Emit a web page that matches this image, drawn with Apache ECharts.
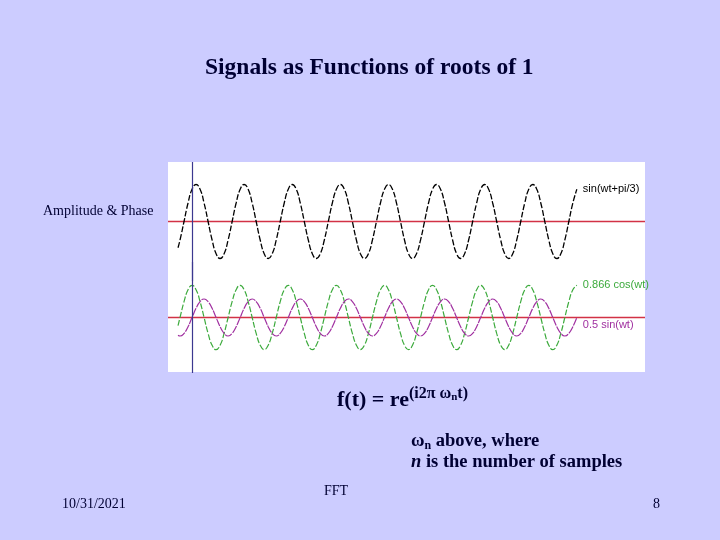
<!DOCTYPE html>
<html>
<head>
<meta charset="utf-8">
<script src="https://cdn.jsdelivr.net/npm/echarts@6/dist/echarts.min.js"></script>
<style>
html, body { margin: 0; padding: 0; background: #ccccff; }
#main { width: 720px; height: 540px; }
</style>
</head>
<body>
<div id="main"></div>
<script>
var phaseDeg = [-105, -90, -60, -30,
	0, 30, 60, 90, 120, 150, 180, 210, 240, 270, 300, 330,
	360, 390, 420, 450, 480, 510, 540, 570, 600, 630, 660, 690,
	720, 750, 780, 810, 840, 870, 900, 930, 960, 990, 1020, 1050,
	1080, 1110, 1140, 1170, 1200, 1230, 1260, 1290, 1320, 1350, 1380, 1410,
	1440, 1470, 1500, 1530, 1560, 1590, 1620, 1650, 1680, 1710, 1740, 1770,
	1800, 1830, 1860, 1890, 1920, 1950, 1980, 2010, 2040, 2070, 2100, 2130,
	2160, 2190, 2220, 2250, 2280, 2310, 2340, 2370, 2400, 2430, 2460, 2490,
	2520, 2550, 2580, 2610, 2640, 2670, 2700, 2730, 2760, 2790, 2820, 2850,
	2880];

// sin(wt+pi/3)
var sinShifted = [-0.71, -0.5, 0, 0.5,
	0.87, 1, 0.87, 0.5, 0, -0.5, -0.87, -1, -0.87, -0.5, 0, 0.5,
	0.87, 1, 0.87, 0.5, 0, -0.5, -0.87, -1, -0.87, -0.5, 0, 0.5,
	0.87, 1, 0.87, 0.5, 0, -0.5, -0.87, -1, -0.87, -0.5, 0, 0.5,
	0.87, 1, 0.87, 0.5, 0, -0.5, -0.87, -1, -0.87, -0.5, 0, 0.5,
	0.87, 1, 0.87, 0.5, 0, -0.5, -0.87, -1, -0.87, -0.5, 0, 0.5,
	0.87, 1, 0.87, 0.5, 0, -0.5, -0.87, -1, -0.87, -0.5, 0, 0.5,
	0.87, 1, 0.87, 0.5, 0, -0.5, -0.87, -1, -0.87, -0.5, 0, 0.5,
	0.87, 1, 0.87, 0.5, 0, -0.5, -0.87, -1, -0.87, -0.5, 0, 0.5,
	0.87];

// 0.866 cos(wt)
var cosPart = [-0.22, 0, 0.43, 0.75,
	0.87, 0.75, 0.43, 0, -0.43, -0.75, -0.87, -0.75, -0.43, 0, 0.43, 0.75,
	0.87, 0.75, 0.43, 0, -0.43, -0.75, -0.87, -0.75, -0.43, 0, 0.43, 0.75,
	0.87, 0.75, 0.43, 0, -0.43, -0.75, -0.87, -0.75, -0.43, 0, 0.43, 0.75,
	0.87, 0.75, 0.43, 0, -0.43, -0.75, -0.87, -0.75, -0.43, 0, 0.43, 0.75,
	0.87, 0.75, 0.43, 0, -0.43, -0.75, -0.87, -0.75, -0.43, 0, 0.43, 0.75,
	0.87, 0.75, 0.43, 0, -0.43, -0.75, -0.87, -0.75, -0.43, 0, 0.43, 0.75,
	0.87, 0.75, 0.43, 0, -0.43, -0.75, -0.87, -0.75, -0.43, 0, 0.43, 0.75,
	0.87, 0.75, 0.43, 0, -0.43, -0.75, -0.87, -0.75, -0.43, 0, 0.43, 0.75,
	0.87];

// 0.5 sin(wt)
var sinPart = [-0.48, -0.5, -0.43, -0.25,
	0, 0.25, 0.43, 0.5, 0.43, 0.25, 0, -0.25, -0.43, -0.5, -0.43, -0.25,
	0, 0.25, 0.43, 0.5, 0.43, 0.25, 0, -0.25, -0.43, -0.5, -0.43, -0.25,
	0, 0.25, 0.43, 0.5, 0.43, 0.25, 0, -0.25, -0.43, -0.5, -0.43, -0.25,
	0, 0.25, 0.43, 0.5, 0.43, 0.25, 0, -0.25, -0.43, -0.5, -0.43, -0.25,
	0, 0.25, 0.43, 0.5, 0.43, 0.25, 0, -0.25, -0.43, -0.5, -0.43, -0.25,
	0, 0.25, 0.43, 0.5, 0.43, 0.25, 0, -0.25, -0.43, -0.5, -0.43, -0.25,
	0, 0.25, 0.43, 0.5, 0.43, 0.25, 0, -0.25, -0.43, -0.5, -0.43, -0.25,
	0, 0.25, 0.43, 0.5, 0.43, 0.25, 0, -0.25, -0.43, -0.5, -0.43, -0.25,
	0];

// zero reference lines across the whole picture
var zeroLineX = [-180, 3390];
var zeroLineY = [0, 0];

var seriesNames = ['sin(wt+pi/3)', '0.866 cos(wt)', '0.5 sin(wt)'];

function pairs(xs, vals) {
	return xs.map(function (d, i) { return [d, vals[i]]; });
}

var serif = '"Liberation Serif", "Times New Roman", serif';
var sans = '"Liberation Sans", Arial, sans-serif';
var ink = '#000033';
var zeroRed = '#d23246';
var startBlue = '#3c3890';

var startLine = function () {
	return {
		silent: true,
		symbol: 'none',
		label: { show: false },
		animation: false,
		lineStyle: { color: startBlue, width: 1.2, type: 'solid', opacity: 1 },
		data: [{ xAxis: 0 }]
	};
};

var zeroSeries = function (idx) {
	return {
		type: 'line',
		xAxisIndex: idx,
		yAxisIndex: idx,
		data: pairs(zeroLineX, zeroLineY),
		symbol: 'none',
		silent: true,
		z: 1,
		lineStyle: { color: zeroRed, width: 1.6, type: 'solid' },
		markLine: startLine()
	};
};

var chart = echarts.init(document.getElementById('main'));

chart.setOption({
	animation: false,
	backgroundColor: '#ccccff',
	grid: [
		// white picture box
		{ left: 168, top: 162, width: 477, height: 210, show: true, backgroundColor: '#ffffff', borderWidth: 0 },
		// top wave
		{ left: 168, top: 162, width: 477, height: 119 },
		// bottom waves
		{ left: 168, top: 262, width: 477, height: 111 }
	],
	xAxis: [
		{ gridIndex: 0, type: 'value', min: -180, max: 3390, show: false },
		{ gridIndex: 1, type: 'value', min: -180, max: 3390, show: false },
		{ gridIndex: 2, type: 'value', min: -180, max: 3390, show: false }
	],
	yAxis: [
		{ gridIndex: 0, type: 'value', min: -1, max: 1, show: false },
		{ gridIndex: 1, type: 'value', min: -1.608, max: 1.608, show: false },
		{ gridIndex: 2, type: 'value', min: -1.5, max: 1.5, show: false }
	],
	series: [
		zeroSeries(1),
		zeroSeries(2),
		{
			name: seriesNames[0],
			type: 'line',
			xAxisIndex: 1,
			yAxisIndex: 1,
			data: pairs(phaseDeg, sinShifted),
			smooth: true,
			symbol: 'none',
			z: 3,
			lineStyle: { color: '#000000', width: 1.3, type: [6, 2] },
			endLabel: {
				show: true, formatter: seriesNames[0], distance: 6,
				color: '#000000', fontFamily: sans, fontSize: 11
			}
		},
		{
			name: seriesNames[1],
			type: 'line',
			xAxisIndex: 2,
			yAxisIndex: 2,
			data: pairs(phaseDeg, cosPart),
			smooth: true,
			symbol: 'none',
			z: 3,
			lineStyle: { color: '#3caa3c', width: 1.2, type: [6, 2] },
			endLabel: {
				show: true, formatter: seriesNames[1], distance: 6,
				color: '#3caa3c', fontFamily: sans, fontSize: 11
			}
		},
		{
			name: seriesNames[2],
			type: 'line',
			xAxisIndex: 2,
			yAxisIndex: 2,
			data: pairs(phaseDeg, sinPart),
			smooth: true,
			symbol: 'none',
			z: 3,
			lineStyle: { color: '#a030a0', width: 1.2, type: [8, 1] },
			endLabel: {
				show: true, formatter: seriesNames[2], distance: 6, offset: [0, 7],
				color: '#a030a0', fontFamily: sans, fontSize: 11
			}
		}
	],
	graphic: [
		{
			type: 'text', x: 205, y: 68,
			style: { text: 'Signals as Functions of roots of 1', font: 'bold 23.5px ' + serif, fill: ink, textVerticalAlign: 'middle' }
		},
		{
			type: 'text', x: 43, y: 211,
			style: { text: 'Amplitude & Phase', font: '14px ' + serif, fill: ink, textVerticalAlign: 'middle' }
		},
		{
			type: 'text', x: 337, y: 400,
			style: {
				text: '{m|f(t) = re}{s|(i2\u03c0 \u03c9}{u|n}{s|t)}',
				textVerticalAlign: 'middle',
				fill: ink,
				rich: {
					m: { font: 'bold 22px ' + serif, lineHeight: 28, fill: ink },
					s: { font: 'bold 16px ' + serif, lineHeight: 18, verticalAlign: 'top', fill: ink },
					u: { font: 'bold 11px ' + serif, lineHeight: 18, verticalAlign: 'top', padding: [6, 0, 0, 0], fill: ink }
				}
			}
		},
		{
			type: 'text', x: 411, y: 441,
			style: {
				text: '{b|\u03c9}{u|n}{b| above, where}',
				textVerticalAlign: 'middle',
				fill: ink,
				rich: {
					b: { font: 'bold 18.5px ' + serif, lineHeight: 22, fill: ink },
					u: { font: 'bold 12px ' + serif, lineHeight: 22, verticalAlign: 'bottom', fill: ink }
				}
			}
		},
		{
			type: 'text', x: 411, y: 462,
			style: {
				text: '{i|n}{b| is the number of samples}',
				textVerticalAlign: 'middle',
				fill: ink,
				rich: {
					i: { font: 'italic bold 18.5px ' + serif, fill: ink },
					b: { font: 'bold 18.5px ' + serif, fill: ink }
				}
			}
		},
		{
			type: 'text', x: 62, y: 504,
			style: { text: '10/31/2021', font: '14px ' + serif, fill: ink, textVerticalAlign: 'middle' }
		},
		{
			type: 'text', x: 324, y: 491,
			style: { text: 'FFT', font: '14px ' + serif, fill: ink, textVerticalAlign: 'middle' }
		},
		{
			type: 'text', x: 653, y: 504,
			style: { text: '8', font: '14px ' + serif, fill: ink, textVerticalAlign: 'middle' }
		}
	]
});
</script>
</body>
</html>
